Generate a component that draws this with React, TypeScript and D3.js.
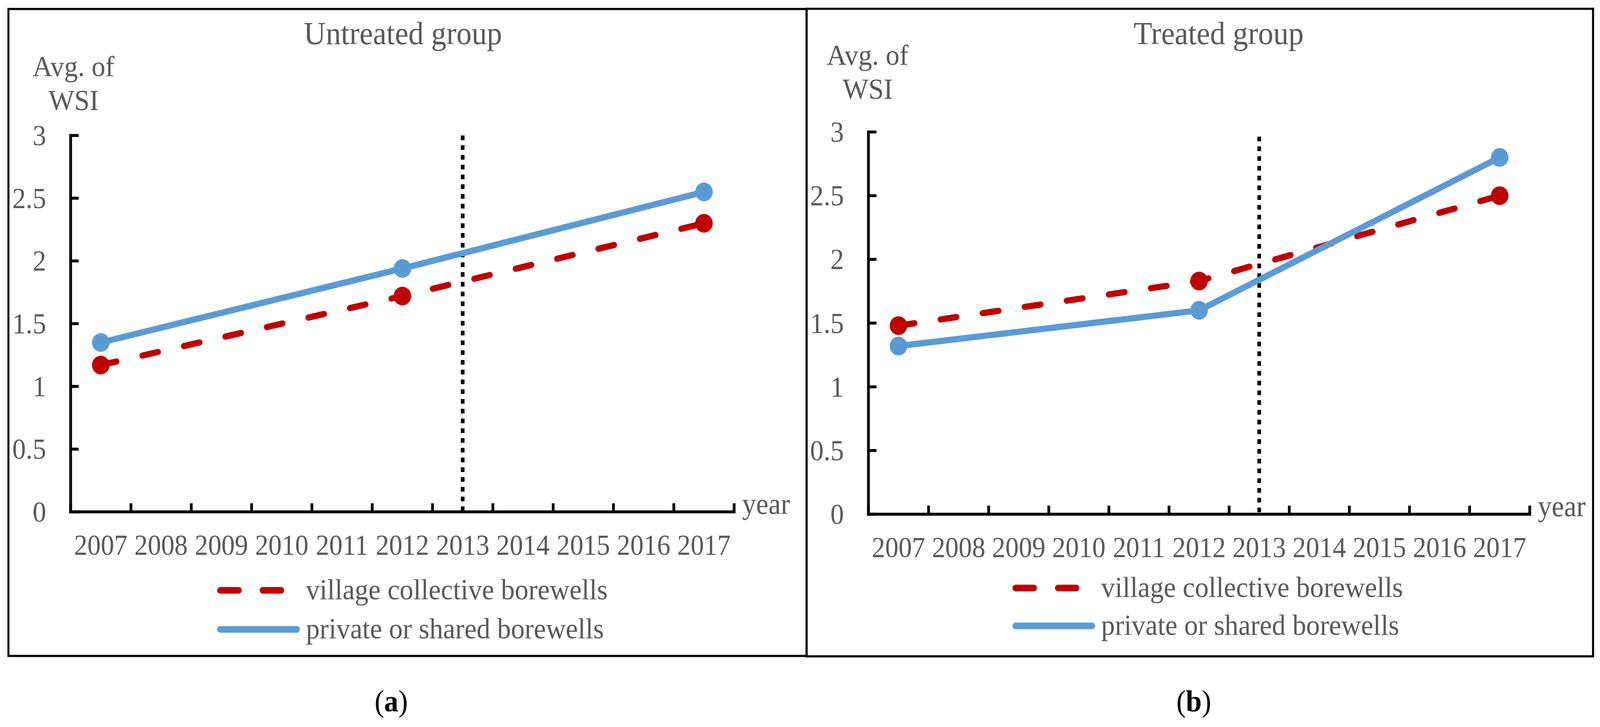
import React from 'react';
import * as d3 from 'd3';

const YEARS = ['2007', '2008', '2009', '2010', '2011', '2012', '2013', '2014', '2015', '2016', '2017'];
const DATA_YEARS = ['2007', '2012', '2017'];
const UNTREATED_VILLAGE = [1.17, 1.72, 2.3];
const UNTREATED_PRIVATE = [1.35, 1.94, 2.55];
const TREATED_VILLAGE = [1.48, 1.83, 2.5];
const TREATED_PRIVATE = [1.32, 1.6, 2.8];
const Y_TICKS = [0, 0.5, 1, 1.5, 2, 2.5, 3];
const Y_TICK_LABELS = ['0', '0.5', '1', '1.5', '2', '2.5', '3'];
const SERIES_NAMES = ['village collective borewells', 'private or shared borewells'];
const TITLES = ['Untreated group', 'Treated group'];
const CAPTIONS = ['a', 'b'];
const POLICY_YEAR = '2013';
const Y_LABEL = ['Avg. of', 'WSI'];
const X_LABEL = 'year';

const RED = '#C00000';
const BLUE = '#5B9BD5';
const GRAY = '#595959';
const FONT = "'Liberation Serif', 'Times New Roman', serif";

type Layout = {
  box: [number, number, number, number];
  x0: number; x1: number; yTop: number; yBot: number;
  titleX: number; titleY: number;
  ylabX: number; ylabY: number;
  legendX: number; legendY1: number; legendY2: number; legendTextX: number;
  captionX: number; dotTop: number;
};

const LAYOUTS: Layout[] = [
  { box: [23, 23, 2204, 1680], x0: 193, x1: 2006, yTop: 347, yBot: 1311, titleX: 1101, titleY: 113,
    ylabX: 201, ylabY: 195, legendX: 594, legendY1: 1512, legendY2: 1612, legendTextX: 836, captionX: 1069, dotTop: 347 },
  { box: [2204, 22.5, 4353, 1681], x0: 2373, x1: 4180, yTop: 338, yBot: 1317, titleX: 3330, titleY: 113,
    ylabX: 2371, ylabY: 166, legendX: 2767, legendY1: 1506, legendY2: 1603, legendTextX: 3009, captionX: 3262, dotTop: 350 },
];

function Panel({ L, title, caption, village, priv }: { L: Layout; title: string; caption: string; village: number[]; priv: number[] }) {
  const x = d3.scaleBand<string>().domain(YEARS).range([L.x0, L.x1]).padding(0);
  const y = d3.scaleLinear().domain([0, 3]).range([L.yBot, L.yTop]);
  const cx = (yr: string) => (x(yr) as number) + x.bandwidth() / 2;
  const line = d3.line<number>().x((_, i) => cx(DATA_YEARS[i])).y((d) => y(d));
  const boundaries = YEARS.map((yr) => x(yr) as number).concat([L.x1]);
  const [bx0, by0, bx1, by1] = L.box;
  const axisW = 7.5;
  return (
    <g>
      <rect x={bx0} y={by0} width={bx1 - bx0} height={by1 - by0} fill="none" stroke="#000" strokeWidth={5.5} />
      <text x={L.titleX} y={L.titleY} textAnchor="middle" fontSize={83} fill={GRAY} fontFamily={FONT}>{title}</text>
      <text x={L.ylabX} y={L.ylabY} textAnchor="middle" fontSize={75} fill={GRAY} fontFamily={FONT}>{Y_LABEL[0]}</text>
      <text x={L.ylabX} y={L.ylabY + 87} textAnchor="middle" fontSize={75} fill={GRAY} fontFamily={FONT}>{Y_LABEL[1]}</text>
      <line x1={L.x0} x2={L.x0} y1={y(3)} y2={y(0)} stroke="#000" strokeWidth={axisW} strokeLinecap="square" />
      {Y_TICKS.map((t, i) => (
        <g key={t}>
          <line x1={L.x0} x2={L.x0 + 22} y1={y(t)} y2={y(t)} stroke="#000" strokeWidth={axisW} />
          <text x={L.x0 - 67} y={y(t)} dy="0.34em" textAnchor="end" fontSize={74} fill={GRAY} fontFamily={FONT}>{Y_TICK_LABELS[i]}</text>
        </g>
      ))}
      <line x1={L.x0} x2={L.x1} y1={y(0)} y2={y(0)} stroke="#000" strokeWidth={axisW} strokeLinecap="square" />
      {boundaries.map((b, i) => (
        <line key={i} x1={b} x2={b} y1={y(0)} y2={y(0) - 22} stroke="#000" strokeWidth={axisW} />
      ))}
      {YEARS.map((yr) => (
        <text key={yr} x={cx(yr)} y={y(0) + 110} textAnchor="middle" fontSize={73} fill={GRAY} fontFamily={FONT}>{yr}</text>
      ))}
      <text x={L.x1 + 22} y={y(0) + 5} fontSize={76} fill={GRAY} fontFamily={FONT}>{X_LABEL}</text>
      <line x1={cx(POLICY_YEAR)} x2={cx(POLICY_YEAR)} y1={L.dotTop} y2={y(0)} stroke="#000" strokeWidth={10} strokeDasharray="12 13" />
      <path d={line(village) || ''} fill="none" stroke={RED} strokeWidth={16} strokeLinecap="round" strokeDasharray="44 72" />
      {village.map((v, i) => <circle key={'r' + i} cx={cx(DATA_YEARS[i])} cy={y(v)} r={24} fill={RED} />)}
      <path d={line(priv) || ''} fill="none" stroke={BLUE} strokeWidth={16} strokeLinecap="round" />
      {priv.map((v, i) => <circle key={'b' + i} cx={cx(DATA_YEARS[i])} cy={y(v)} r={24} fill={BLUE} />)}
      <line x1={L.legendX + 8} x2={L.legendX + 174} y1={L.legendY1} y2={L.legendY1} stroke={RED} strokeWidth={17} strokeLinecap="round" strokeDasharray="50 66" />
      <text x={L.legendTextX} y={L.legendY1 + 23} fontSize={75} fill={GRAY} fontFamily={FONT}>{SERIES_NAMES[0]}</text>
      <line x1={L.legendX + 8} x2={L.legendX + 217} y1={L.legendY2} y2={L.legendY2} stroke={BLUE} strokeWidth={17} strokeLinecap="round" />
      <text x={L.legendTextX} y={L.legendY2 + 23} fontSize={75} fill={GRAY} fontFamily={FONT}>{SERIES_NAMES[1]}</text>
      <text x={L.captionX} y={1822} textAnchor="middle" fontSize={78} fill="#000" fontFamily={FONT}>
        (<tspan fontWeight="bold">{caption}</tspan>)
      </text>
    </g>
  );
}

export default function App() {
  return (
    <div style={{ position: 'fixed', left: 0, top: 0, width: '100vw', height: '100vh', background: '#fff', overflow: 'hidden' }}>
      <svg width="100%" height="100%" viewBox="0 0 4372 1862" preserveAspectRatio="none" style={{ display: 'block' }}>
        <rect x={0} y={0} width={4372} height={1862} fill="#fff" />
        <Panel L={LAYOUTS[0]} title={TITLES[0]} caption={CAPTIONS[0]} village={UNTREATED_VILLAGE} priv={UNTREATED_PRIVATE} />
        <Panel L={LAYOUTS[1]} title={TITLES[1]} caption={CAPTIONS[1]} village={TREATED_VILLAGE} priv={TREATED_PRIVATE} />
      </svg>
    </div>
  );
}
